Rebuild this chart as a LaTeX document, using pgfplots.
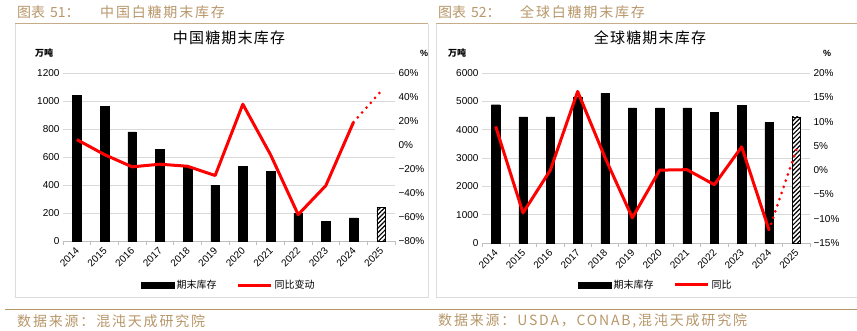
\documentclass[border=0pt]{standalone}
\usepackage{pgfplots}
\pgfplotsset{compat=1.18}
\usetikzlibrary{patterns.meta}
\usepackage{fontspec}
\setmainfont{Liberation Sans}
\newfontfamily\cjk{Noto Sans CJK SC}
\newfontfamily\cjks[LetterSpace=13]{Noto Sans CJK SC}
\newfontfamily\cjkt[LetterSpace=8]{Noto Sans CJK SC}
\definecolor{gold}{HTML}{B8976A}
\definecolor{gridc}{HTML}{D9D9D9}
\definecolor{axc}{HTML}{BFBFBF}
\definecolor{boxc}{HTML}{DDDDDD}

\pgfplotsset{
  common/.style={scale only axis, xmin=-0.5, xmax=11.5, anchor=south west,
    xtick={0,...,11},
    xticklabels={2014,2015,2016,2017,2018,2019,2020,2021,2022,2023,2024,2025}},
  baraxis/.style={common, axis y line*=left, axis x line*=bottom,
    y axis line style={draw=none}, x axis line style={draw=axc, line width=0.8pt},
    ymajorgrids, grid style={draw=gridc, line width=0.6pt},
    tick style={draw=axc, line width=0.8pt},
    major tick length=0pt, minor tick length=4pt, tick align=outside,
    minor xtick={-0.5,0.5,...,11.5},
    x tick label style={font=\fontsize{10}{12}\selectfont, xshift=3pt, yshift=-6pt, rotate=45, anchor=east},
    y tick label style={font=\fontsize{10}{12}\selectfont}},
  lineaxis/.style={common, axis y line*=right, axis x line=none,
    y axis line style={draw=none}, major tick length=0pt, ytick style={draw=none},
    y tick label style={font=\fontsize{10}{12}\selectfont},
    legend cell align=left,
    legend style={anchor=center, draw=none, fill=none, legend columns=2,
      font=\cjk\fontsize{10}{11}\selectfont,
      /tikz/every even column/.append style={column sep=18pt}}},
}

\begin{document}
\begin{tikzpicture}
\useasboundingbox[fill=white] (0pt,0pt) rectangle (857pt,-330pt);
% panel frames
\draw[boxc, line width=1pt] (15pt,-24pt) -- (15pt,-297pt) -- (428pt,-297pt) -- (428pt,-24pt);
\draw[boxc, line width=1pt] (436pt,-24pt) -- (436pt,-297pt) -- (857pt,-297pt);
\draw[gold!80, line width=0.8pt] (15pt,-23pt) -- (428pt,-23pt);
\draw[gold!80, line width=0.8pt] (436pt,-23pt) -- (857pt,-23pt);
\draw[gold, line width=0.8pt] (5pt,-309pt) -- (857pt,-309pt);

% ===== Left panel =====
\begin{axis}[baraxis, at={(63pt,-241pt)}, width=332pt, height=168pt,
  ymin=0, ymax=1200, ytick={0,200,...,1200},
  yticklabels={0,200,400,600,800,1000,1200}]
\addplot[ybar, bar width=8.5pt, bar shift=0pt, fill=black, draw=black]
  coordinates {(0,1040)(1,960)(2,780)(3,655)(4,530)(5,400)(6,535)(7,500)(8,200)(9,140)(10,165)};
\addplot[ybar, bar width=8.5pt, bar shift=0pt, draw=black, line width=0.8pt, fill=white,
  postaction={pattern={Lines[angle=45,distance=3.2pt,line width=1.2pt]}}]
  coordinates {(11,240)};
\end{axis}
\begin{axis}[lineaxis, at={(63pt,-241pt)}, width=332pt, height=168pt,
  ymin=-80, ymax=60, ytick={-80,-60,...,60},
  yticklabels={−80\%,−60\%,−40\%,−20\%,0\%,20\%,40\%,60\%},
  legend style={at={(0.5,-0.262)}}]
\addlegendimage{legend image code/.code={\fill[black] (0pt,-3pt) rectangle (33pt,3pt);}}
\addlegendentry{期末库存}
\addplot[red, line width=3pt, line join=round,
  legend image code/.code={\draw[red, line width=3pt] (0pt,0pt) -- (33pt,0pt);}]
  coordinates {(0,4.5)(1,-8)(2,-18.2)(3,-16)(4,-17.7)(5,-25.4)(6,34)(7,-8)(8,-58)(9,-33.8)(10,19)};
\addlegendentry{同比变动}
\addplot[red, line width=3pt, line cap=round, dash pattern=on 0pt off 6.5pt, forget plot]
  coordinates {(10,19)(11,45)};
\end{axis}

% ===== Right panel =====
\begin{axis}[baraxis, at={(482pt,-243pt)}, width=328pt, height=170pt,
  ymin=0, ymax=6000, ytick={0,1000,...,6000},
  yticklabels={0,1000,2000,3000,4000,5000,6000}]
\addplot[ybar, bar width=8.5pt, bar shift=0pt, fill=black, draw=black]
  coordinates {(0,4880)(1,4450)(2,4450)(3,5160)(4,5290)(5,4770)(6,4770)(7,4770)(8,4620)(9,4850)(10,4260)};
\addplot[ybar, bar width=8.5pt, bar shift=0pt, draw=black, line width=0.8pt, fill=white,
  postaction={pattern={Lines[angle=45,distance=3.2pt,line width=1.2pt]}}]
  coordinates {(11,4450)};
\end{axis}
\begin{axis}[lineaxis, at={(482pt,-243pt)}, width=328pt, height=170pt,
  ymin=-15, ymax=20, ytick={-15,-10,...,20},
  yticklabels={−15\%,−10\%,−5\%,0\%,5\%,10\%,15\%,20\%},
  legend style={at={(0.53,-0.247)}}]
\addlegendimage{legend image code/.code={\fill[black] (0pt,-3pt) rectangle (33pt,3pt);}}
\addlegendentry{期末库存}
\addplot[red, line width=3pt, line join=round,
  legend image code/.code={\draw[red, line width=3pt] (0pt,0pt) -- (33pt,0pt);}]
  coordinates {(0,9)(1,-8.8)(2,0)(3,16.2)(4,2.6)(5,-9.8)(6,0)(7,0.1)(8,-3)(9,4.8)(10,-12.3)};
\addlegendentry{同比}
\addplot[red, line width=3pt, line cap=round, dash pattern=on 0pt off 6.5pt, forget plot]
  coordinates {(10,-12.3)(11,4.2)};
\end{axis}

% ===== texts =====
\node[anchor=west, text=gold, font=\cjk\fontsize{14}{16}\selectfont, inner sep=0pt] at (17pt,-12.5pt) {图表\hspace{5pt}51：};
\node[anchor=west, text=gold, font=\cjks\fontsize{14}{16}\selectfont, inner sep=0pt] at (100pt,-12.5pt) {中国白糖期末库存};
\node[anchor=west, text=gold, font=\cjk\fontsize{14}{16}\selectfont, inner sep=0pt] at (438pt,-12.5pt) {图表\hspace{5pt}52：};
\node[anchor=west, text=gold, font=\cjks\fontsize{14}{16}\selectfont, inner sep=0pt] at (520pt,-12.5pt) {全球白糖期末库存};

\node[font=\cjkt\fontsize{15}{17}\selectfont, inner sep=0pt] at (229pt,-38pt) {中国糖期末库存};
\node[font=\cjkt\fontsize{15}{17}\selectfont, inner sep=0pt] at (650pt,-38pt) {全球糖期末库存};

\node[font=\cjk\bfseries\fontsize{9}{10}\selectfont, inner sep=0pt] at (44pt,-53pt) {万吨};
\node[font=\bfseries\fontsize{9}{10}\selectfont, inner sep=0pt] at (424pt,-53pt) {\%};
\node[font=\cjk\bfseries\fontsize{9}{10}\selectfont, inner sep=0pt] at (457pt,-53pt) {万吨};
\node[font=\bfseries\fontsize{9}{10}\selectfont, inner sep=0pt] at (827pt,-53pt) {\%};

\node[anchor=west, text=gold, font=\cjks\fontsize{14}{16}\selectfont, inner sep=0pt] at (17pt,-321pt) {数据来源：混沌天成研究院};
\node[anchor=west, text=gold, font=\cjks\fontsize{14}{16}\selectfont, inner sep=0pt] at (438pt,-321pt) {数据来源：USDA，CONAB,混沌天成研究院};
\end{tikzpicture}
\end{document}
